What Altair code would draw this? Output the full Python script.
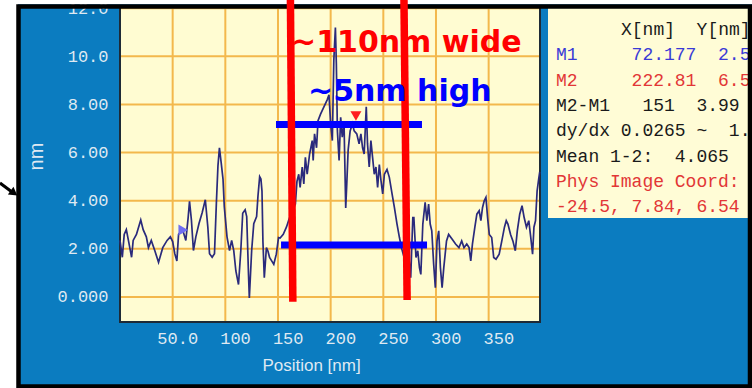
import altair as alt
import pandas as pd

# ---- profile data (position in nm, height in nm) ----
position_nm = [0, 2.2, 4, 6, 8, 11, 12.5, 15.6, 19.7, 22, 25, 27, 29.7, 33, 36.6, 40.6, 44.7, 47.8,
               50, 52, 54, 55.6, 59.4, 62.5, 64.7, 66, 67.8, 69.7, 72, 75, 78, 81, 83.4, 85, 87.5,
               89.7, 91.5, 93, 94.4, 96, 97.8, 99, 101.6, 104, 106, 108, 110, 112.5, 114.7, 116.5,
               118.8, 120.3, 122, 122.8, 125, 127, 129.7, 131, 132.6, 133.8, 134.8, 135.7, 137, 139,
               140.5, 142, 144, 146, 148.4, 150.5, 152, 155, 158, 161, 164, 166.5, 168, 169.7, 171,
               173, 174.5, 176, 177.7, 180, 182.5, 183.4, 184.7, 186.6, 188, 190.4, 193.6, 196.8,
               198.4, 200, 201.6, 203, 204.5, 205.4, 206.4, 208, 209.5, 211, 212.7, 214.3, 215.3,
               216.6, 218.5, 220.7, 222.3, 224.8, 227, 228.7, 230.3, 231.8, 233.8, 235, 236.6, 238.2,
               239.8, 241.4, 243, 244.6, 246.2, 247.8, 249.4, 251, 253.5, 255.7, 258.3, 260.5, 263,
               265.3, 267.5, 270, 272.5, 274.5, 276, 278, 279, 281, 282.7, 284.3, 285.6, 287.5,
               289.7, 291.3, 293, 294.5, 296, 297.8, 299.4, 301, 302.6, 304.2, 305.8, 307.4, 310,
               312, 315.4, 318.6, 321.8, 324.4, 326.6, 329.2, 331.4, 333, 334.6, 336.9, 338.8, 341,
               342.6, 344.2, 345.8, 347.4, 349, 350.6, 352.9, 354.8, 357, 360, 362.5, 365, 366.7,
               368.3, 370.8, 373, 375.3, 377.2, 379.5, 381.7, 383.7, 385.9, 388.1, 390, 391.7, 393,
               394.5, 396, 397.5, 398.5]
height_nm = [2.35, 1.65, 2.6, 2.8, 2.35, 1.65, 2.35, 2.6, 3.2, 2.8, 2.5, 2.05, 2.35, 1.93, 1.44, 2.05,
             2.35, 2.5, 2.3, 1.8, 1.5, 2.6, 2.8, 2.35, 3.3, 3.97, 3.2, 1.93, 2.5, 3.05, 3.5, 4.04,
             2.9, 1.8, 1.65, 1.8, 3.9, 5.45, 6.2, 5.6, 4.9, 3.76, 2.5, 1.93, 2.35, 1.93, 1.08, 0.52,
             1.93, 3.48, 3.62, 3.34, 0.94, -0.04, 1.93, 3.05, 3.34, 4.2, 5.0, 4.9, 4.4, 2.3, 0.8,
             2.05, 1.9, 1.64, 1.5, 1.36, 1.78, 2.47, 2.45, 2.6, 2.9, 3.3, 3.6, 3.86, 4.8, 5.1, 4.55,
             5.4, 4.7, 5.8, 5.1, 5.94, 6.5, 5.67, 6.78, 6.2, 7.33, 7.6, 7.9, 8.2, 8.4, 7.2, 6.5,
             9.83, 11.2, 9.7, 6.9, 5.67, 7.47, 6.64, 7.2, 3.7, 4.7, 6.1, 6.9, 7.2, 6.9, 6.78, 6.36,
             6.78, 6.2, 5.94, 7.9, 6.36, 5.4, 6.5, 5.8, 5.1, 5.4, 4.55, 5.5, 4.83, 4.28, 5.1, 5.3,
             4.97, 4.28, 3.72, 3.03, 2.47, 2.0, 1.6, 2.2, 1.5, 0.8, 3.3, 3.3, 1.64, 1.92, 1.22,
             0.94, 3.03, 3.93, 3.17, 3.86, 3.03, 2.75, 1.36, 0.39, 2.33, 2.75, 1.22, 0.39, 1.22,
             2.33, 2.6, 2.4, 2.2, 2.05, 2.33, 2.05, 2.2, 2.05, 1.5, 2.2, 2.9, 3.44, 3.58, 3.17,
             3.72, 4.0, 4.14, 3.3, 2.6, 2.47, 1.64, 1.57, 1.78, 2.33, 2.9, 3.17, 3.03, 2.6, 2.33,
             1.92, 2.75, 3.44, 3.79, 3.3, 2.9, 3.17, 2.47, 1.78, 2.9, 3.17, 4.4, 4.9, 5.2]

# cursor markers M1 / M2
marker_x = [60.0, 224.0]
marker_y = [2.78, 7.52]
marker_shape = ["triangle-right", "triangle-down"]
marker_color = ["#6f6ff2", "#ff1e1e"]

# axis ticks
x_ticks = [50, 100, 150, 200, 250, 300, 350]
y_ticks = [0, 2, 4, 6, 8, 10, 12]

# hand-drawn annotation lines (data units)
width_line_x = [161.8, 269.6]
width_line_x2 = [164.1, 272.6]
width_line_y = [12.34, 12.34]
width_line_y2 = [-0.195, -0.125]

height_line_x = [148.1, 152.9]
height_line_x2 = [286.7, 291.5]
height_line_y = [7.167, 2.16]

# info panel text
panel_header = "X[nm]  Y[nm]"
panel_rows = ["M1     72.177  2.5",
              "M2     222.81  6.5",
              "M2-M1   151  3.99",
              "dy/dx 0.0265 ~  1.",
              "Mean 1-2:  4.065",
              "Phys Image Coord:",
              "-24.5, 7.84, 6.54"]
panel_colors = ["#3a3ad6", "#e23636", "#1a1a1a", "#1a1a1a", "#1a1a1a", "#e23636", "#e23636"]

BLUE_BG = "#0b7cc0"
LIGHT = "#dfe9f2"
GRID = "#f3b84c"
PLOT_BG = "#fffcd2"

profile = pd.DataFrame({"nm": position_nm, "h": height_nm})
markers = pd.DataFrame({"nm": marker_x, "h": marker_y, "shape": marker_shape, "c": marker_color})
red_lines = pd.DataFrame({"nm": width_line_x, "nm2": width_line_x2, "h": width_line_y, "h2": width_line_y2})
blue_lines = pd.DataFrame({"nm": height_line_x, "nm2": height_line_x2, "h": height_line_y})
xgrid = pd.DataFrame({"nm": x_ticks})
ygrid = pd.DataFrame({"h": y_ticks})

xscale = alt.Scale(domain=[0, 398.75], nice=False, zero=False)
yscale = alt.Scale(domain=[-1.039, 12.09], nice=False, zero=False)

xaxis = alt.Axis(title="Position [nm]", values=x_ticks, grid=False,
                 domain=False, ticks=False, labelFont="Liberation Mono",
                 labelFontSize=17, labelColor=LIGHT, labelAlign="right", labelOffset=25,
                 labelBaseline="middle", labelPadding=16,
                 labelExpr="datum.value == 50 ? '50.0' : format(datum.value, 'd')",
                 titleFont="Liberation Sans", titleFontSize=17, titleFontWeight="normal",
                 titleColor=LIGHT, titleX=191, titleY=43, titleBaseline="middle", titleAlign="center")
yaxis = alt.Axis(title="nm", values=y_ticks, grid=False,
                 domain=False, ticks=False, labelFont="Liberation Mono", labelFontSize=17,
                 labelColor=LIGHT, labelPadding=12, labelBaseline="middle",
                 labelExpr="datum.value == 0 ? '0.000' : (datum.value >= 10 ? format(datum.value, '.1f') : format(datum.value, '.2f'))",
                 titleFont="Liberation Sans", titleFontSize=20, titleFontWeight="normal",
                 titleColor=LIGHT, titleX=-84, titleY=150, titleBaseline="middle", titleAlign="center",
                 titleAngle=270)


def X(field):
    return alt.X(field, type="quantitative", scale=xscale, axis=xaxis)


def Y(field):
    return alt.Y(field, type="quantitative", scale=yscale, axis=yaxis)


one = alt.Data(values=[{"k": 1}])
NB = "\u00a0"


def deco_rect(x, x2, y, y2, **kw):
    return alt.Chart(one).mark_rect(**kw).encode(
        x=alt.value(x), x2=alt.value(x2), y=alt.value(y), y2=alt.value(y2))


def text_line(txt, x, y, color, size, font, weight="normal"):
    return alt.Chart(alt.Data(values=[{"t": txt.replace(" ", NB)}])).mark_text(
        align="left", baseline="middle", font=font, fontSize=size, fontWeight=weight,
        color=color, x=x, y=y).encode(text="t:N")


layers = []
# plot area background
layers.append(deco_rect(0, 420, 0, 316, color=PLOT_BG))
# grid
layers.append(alt.Chart(xgrid).mark_rule(color=GRID, strokeWidth=2).encode(x=X("nm")))
layers.append(alt.Chart(ygrid).mark_rule(color=GRID, strokeWidth=2).encode(y=Y("h")))
# plot border
layers.append(alt.Chart(one).mark_rect(filled=False, stroke="#1e2a36", strokeWidth=2).encode(
    x=alt.value(0), x2=alt.value(420), y=alt.value(0), y2=alt.value(316)))
# white margin outside the frame
layers.append(deco_rect(-120, -102, -6, 382, color="white"))
layers.append(deco_rect(-120, 632, -6, -1.7, color="white"))
# info panel
layers.append(deco_rect(428, 632, 0, 212, color="#fffcd6"))
layers.append(text_line(panel_header, 501, 24, "#1a1a1a", 18, "Liberation Mono"))
row_y = [49, 74.5, 100, 125, 151, 176, 201]
for txt, col, yy in zip(panel_rows, panel_colors, row_y):
    layers.append(text_line(txt, 436, yy, col, 18, "Liberation Mono"))

# profile line
layers.append(alt.Chart(profile).mark_line(color="#2a2a7c", strokeWidth=1.7).encode(x=X("nm"), y=Y("h")))
# markers
layers.append(alt.Chart(markers).mark_point(filled=True, size=120, opacity=1).encode(
    x=X("nm"), y=Y("h"), shape=alt.Shape("shape:N", scale=None), color=alt.Color("c:N", scale=None)))

# arrow at far left
layers.append(alt.Chart(one).mark_rule(color="black", strokeWidth=3).encode(
    x=alt.value(-120), y=alt.value(177), x2=alt.value(-108), y2=alt.value(186)))
layers.append(alt.Chart(one).mark_point(shape="triangle-right", filled=True, size=90, color="black",
                                        opacity=1, angle=36).encode(x=alt.value(-106), y=alt.value(187)))

# black frame
layers.append(alt.Chart(one).mark_rect(filled=False, stroke="black", strokeWidth=4.5).encode(
    x=alt.value(-101.5), x2=alt.value(630), y=alt.value(0.5), y2=alt.value(380.5)))

# annotation lines
layers.append(alt.Chart(blue_lines).mark_rule(color="#0000ff", strokeWidth=7).encode(
    x=X("nm"), x2="nm2", y=Y("h")))
layers.append(alt.Chart(red_lines).mark_rule(color="#ff0000", strokeWidth=7.5).encode(
    x=X("nm"), x2="nm2", y=Y("h"), y2="h2"))

# annotation texts
layers.append(text_line("~110nm wide", 171, 37, "#ff0000", 30, "DejaVu Sans", "bold"))
layers.append(text_line("~5nm high", 188, 86, "#0000ff", 30, "DejaVu Sans", "bold"))

chart = alt.layer(*layers).properties(
    width=420, height=316,
    padding={"left": 120, "top": 6, "right": 212, "bottom": 66},
    autosize=alt.AutoSizeParams(type="none"),
    background=BLUE_BG,
).configure_view(stroke=None)

chart.save("out.html", embed_options={"renderer": "svg", "actions": False})
